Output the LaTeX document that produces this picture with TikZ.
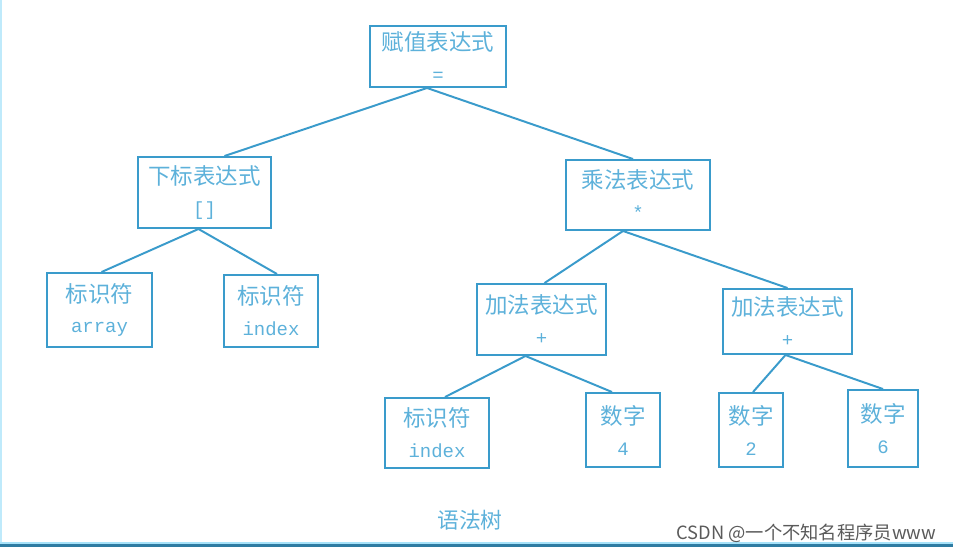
\documentclass[tikz,border=0pt]{standalone}
\usepackage{fontspec}
\setmainfont{Noto Sans CJK SC}
\setmonofont{Liberation Mono}
\usetikzlibrary{calc}
\definecolor{treeline}{HTML}{3A9BCB}
\definecolor{treetext}{HTML}{5DB1DA}
\definecolor{wmgray}{HTML}{5A5A5A}
\tikzset{
  tbox/.style={draw=treeline,line width=1.4pt,text=treetext,align=center,inner sep=0pt,
    font=\fontsize{16}{22}\selectfont},
  tedge/.style={draw=treeline,line width=1.4pt},
}
\begin{document}
\begin{tikzpicture}[x=0.025cm,y=-0.025cm]
\useasboundingbox (0,0) rectangle (953,555);
% frame of the slide
\draw[color=cyan!25,line width=1.5pt] (1,0) -- (1,544);
\draw[color=cyan!35,line width=1pt] (0,543) -- (953,543);
\draw[color=treeline!80!black,line width=1.8pt] (0,545.5) -- (953,545.5);
% boxes: name/centre/size/two lines
\foreach \nm/\cx/\cy/\w/\h/\lblA/\lblB in {
  root/438/56.5/136/61/赋值表达式/=,
  sub/204.5/192.5/133/71/下标表达式/[],
  mul/638/195/144/70/乘法表达式/*,
  idA/99.5/310/105/74/标识符/array,
  idB/271/311/94/72/标识符/index,
  addL/541.5/319.5/129/71/加法表达式/+,
  addR/787.5/321.5/129/65/加法表达式/+,
  idC/437/433/104/70/标识符/index,
  numA/623/430/74/74/数字/4,
  numB/751/430/64/74/数字/2,
  numC/883/428.5/70/77/数字/6} {
  \node[tbox,minimum width=\w*0.025cm,minimum height=\h*0.025cm] (\nm) at (\cx,\cy)
    {\lblA\\{\ttfamily\fontsize{13.5}{22}\selectfont\lblB}};
}
% tree edges
\foreach \src/\dsrc/\dst/\ddst in {root/-11/sub/20, root/-11/mul/-5,
  sub/-6/idA/2, sub/-6/idB/6, mul/-15/addL/3, mul/-15/addR/0,
  addL/-16/idC/8, addL/-16/numA/-11, addR/-2/numB/2, addR/-2/numC/0}
  \draw[tedge] ($(\src.south)+(\dsrc,0)$) -- ($(\dst.north)+(\ddst,0)$);
\node[text=treetext,font=\fontsize{15.5}{18}\selectfont] (caption) at (470,520) {语法树};
\node[anchor=east,text=wmgray,font=\fontsize{13}{15}\selectfont] (mark) at (941,533) {CSDN @一个不知名程序员www};
\end{tikzpicture}
\end{document}
